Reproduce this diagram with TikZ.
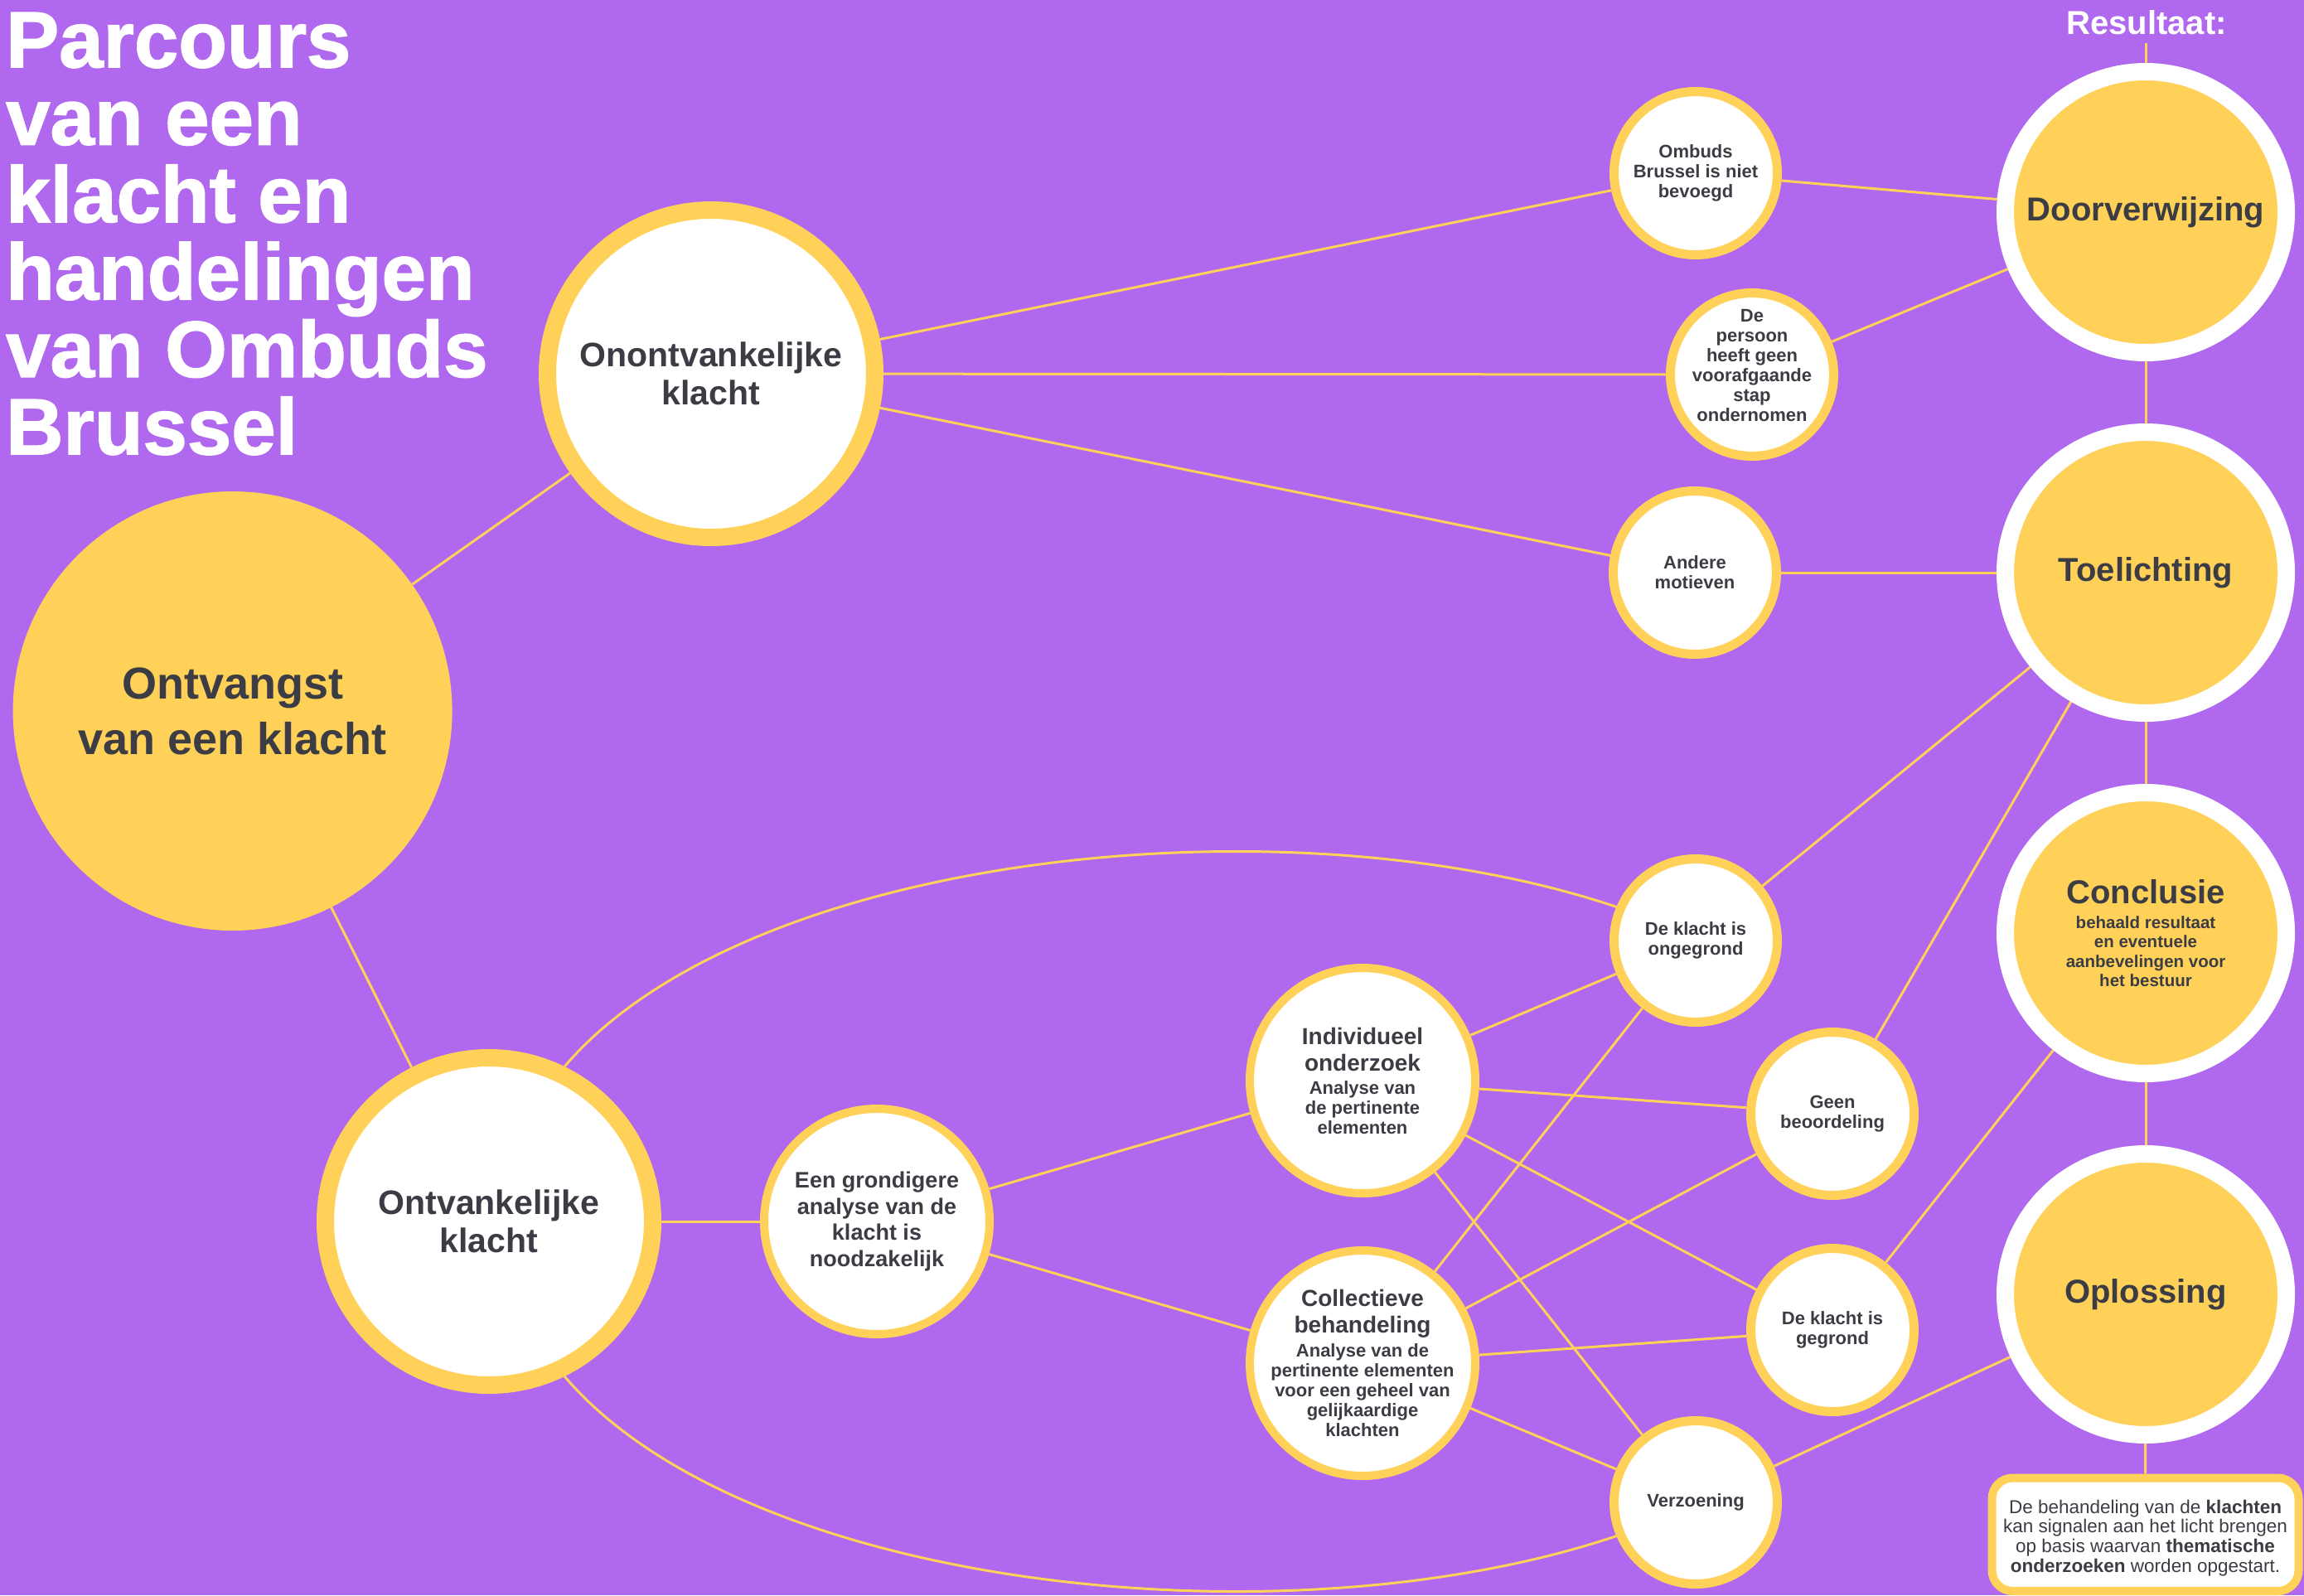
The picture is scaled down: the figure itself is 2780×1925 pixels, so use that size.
\documentclass[tikz,border=0pt]{standalone}
\usepackage{fontspec}
\setmainfont{Liberation Sans}
\newfontfamily\titlefont{Liberation Sans}[BoldFeatures={FakeBold=1.5}]
\definecolor{bgp}{RGB}{175,104,238}
\definecolor{yel}{RGB}{255,209,89}
\definecolor{ink}{RGB}{60,60,68}
\pgfdeclarelayer{back}
\pgfdeclarelayer{lines}
\pgfsetlayers{back,lines,main}
\begin{document}
\begin{tikzpicture}[x=1pt,y=-1pt,
  conn/.style={draw=yel,line width=3pt},
  bignode/.style={circle,draw=yel,fill=white,line width=21pt,minimum size=395pt,inner sep=0pt},
  mednode/.style={circle,draw=yel,fill=white,line width=10pt,minimum size=272pt,inner sep=0pt},
  smallnode/.style={circle,draw=yel,fill=white,line width=11pt,minimum size=197pt,inner sep=0pt},
  resnode/.style={circle,draw=white,fill=yel,line width=21pt,minimum size=339pt,inner sep=0pt},
  s22/.style={text=ink,align=center,inner sep=0pt,font=\fontsize{22}{24}\selectfont\bfseries},
  s27/.style={text=ink,align=center,inner sep=0pt,font=\fontsize{27}{31.5}\selectfont\bfseries},
  s41/.style={text=ink,align=center,inner sep=0pt,font=\fontsize{41}{46}\selectfont\bfseries},
  s54/.style={text=ink,align=center,inner sep=0pt,font=\fontsize{54}{67}\selectfont\bfseries},
  s40/.style={text=ink,align=center,inner sep=0pt,font=\fontsize{40}{46}\selectfont\bfseries},
  smix/.style={text=ink,align=center,inner sep=0pt,font=\fontsize{22}{24}\selectfont\bfseries},
  cmix/.style={text=ink,align=center,inner sep=0pt,font=\fontsize{20.5}{23.3}\selectfont\bfseries},
  boxtxt/.style={text=ink,align=center,inner sep=0pt,font=\fontsize{22.5}{23.7}\selectfont}
]
\useasboundingbox (0,0) rectangle (2780,1925);
\begin{pgfonlayer}{back}
\fill[bgp] (0,0) rectangle (2780,1925);
\end{pgfonlayer}

% title
\node[anchor=north west,text=white,align=left,inner sep=0pt,
  font=\titlefont\bfseries\fontsize{96}{93.4}\selectfont] (title) at (7,15)
  {Parcours\\van een\\klacht en\\handelingen\\van Ombuds\\Brussel};

\node[text=white,anchor=base,inner sep=0pt,font=\fontsize{40}{46}\selectfont\bfseries] (res) at (2590,41) {Resultaat:};
\coordinate (restop) at (2589,52);

% main nodes
\node[circle,fill=yel,minimum size=530pt,inner sep=0pt,
  label={[s54]center:{Ontvangst\\van een klacht}}] (ontv) at (280.6,858) {};
\node[bignode,label={[s41]center:{Onontvankelijke\\klacht}}] (onont) at (858,451) {};
\node[bignode,label={[s41]center:{Ontvankelijke\\klacht}}] (ontvk) at (590,1474) {};
\node[mednode,label={[s27]center:{Een grondigere\\analyse van de\\klacht is\\noodzakelijk}}] (grond) at (1058,1474) {};
\node[mednode,label={[smix]center:{{\fontsize{28}{32}\selectfont Individueel}\\[8pt]{\fontsize{28}{32}\selectfont onderzoek}\\[4pt]Analyse van\\de pertinente\\elementen}}] (indiv) at (1644,1304) {};
\node[mednode,label={[smix]center:{{\fontsize{28}{32}\selectfont Collectieve}\\[8pt]{\fontsize{28}{32}\selectfont behandeling}\\[5pt]Analyse van de\\pertinente elementen\\voor een geheel van\\gelijkaardige\\klachten}}] (coll) at (1644,1645) {};

\node[smallnode,label={[s22]center:{Ombuds\\Brussel is niet\\bevoegd}}] (ombuds) at (2046,209) {};
\node[smallnode,label={[s22,yshift=11pt]center:{De\\persoon\\heeft geen\\voorafgaande\\stap\\ondernomen}}] (persoon) at (2114,452) {};
\node[smallnode,label={[s22]center:{Andere\\motieven}}] (andere) at (2045,691) {};
\node[smallnode,label={[s22]center:{De klacht is\\ongegrond}}] (ongegr) at (2046,1135) {};
\node[smallnode,label={[s22]center:{Geen\\beoordeling}}] (geen) at (2211,1344) {};
\node[smallnode,label={[s22]center:{De klacht is\\gegrond}}] (gegr) at (2211,1605) {};
\node[smallnode,label={[s22]center:{Verzoening}}] (verz) at (2046,1813) {};

\node[resnode,label={[s40]center:{Doorverwijzing}}] (door) at (2589,256) {};
\node[resnode,label={[s40]center:{Toelichting}}] (toel) at (2589,691) {};
\node[resnode,label={[cmix]center:{{\fontsize{40}{46}\selectfont Conclusie}\\[7pt]behaald resultaat\\en eventuele\\aanbevelingen voor\\het bestuur}}] (concl) at (2589,1126) {};
\node[resnode,label={[s40]center:{Oplossing}}] (opl) at (2589,1562) {};

\node[draw=yel,fill=white,line width=10pt,rounded corners=25pt,minimum width=370pt,minimum height=136.5pt,
  inner sep=0pt,
  label={[boxtxt,yshift=-4pt]center:{De behandeling van de \textbf{klachten}\\kan signalen aan het licht brengen\\op basis waarvan \textbf{thematische}\\\textbf{onderzoeken} worden opgestart.}}] (box) at (2588.5,1851.75) {};

\begin{pgfonlayer}{lines}
\draw[conn] (ontv) -- (onont);
\draw[conn] (ontv) -- (ontvk);
\draw[conn] (onont) -- (ombuds);
\draw[conn] (onont) -- (persoon);
\draw[conn] (onont) -- (andere);
\draw[conn] (ombuds) -- (door);
\draw[conn] (persoon) -- (door);
\draw[conn] (andere) -- (toel);
\draw[conn] (ontvk) -- (grond);
\draw[conn] (ontvk.64) .. controls (900,1030) and (1550,960) .. (ongegr.157);
\draw[conn] (ontvk.-64) .. controls (900,1918) and (1550,1988) .. (verz.-157);
\draw[conn] (grond) -- (indiv);
\draw[conn] (grond) -- (coll);
\draw[conn] (indiv) -- (ongegr);
\draw[conn] (indiv) -- (geen);
\draw[conn] (indiv) -- (gegr);
\draw[conn] (indiv) -- (verz);
\draw[conn] (coll) -- (ongegr);
\draw[conn] (coll) -- (geen);
\draw[conn] (coll) -- (gegr);
\draw[conn] (coll) -- (verz);
\draw[conn] (ongegr) -- (toel);
\draw[conn] (geen) -- (toel);
\draw[conn] (gegr) -- (concl);
\draw[conn] (verz) -- (opl);
\draw[conn] (restop) -- (door);
\draw[conn] (door) -- (toel);
\draw[conn] (toel) -- (concl);
\draw[conn] (concl) -- (opl);
\draw[conn] (opl) -- (box.north);
\end{pgfonlayer}
\end{tikzpicture}
\end{document}
